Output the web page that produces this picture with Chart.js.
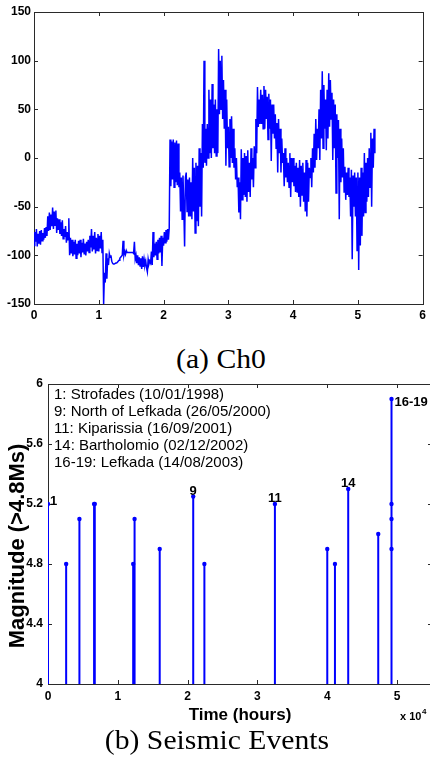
<!DOCTYPE html>
<html>
<head>
<meta charset="utf-8">
<script src="https://cdn.jsdelivr.net/npm/chart.js@4.4.1/dist/chart.umd.min.js"></script>
<style>
  html, body { margin: 0; padding: 0; overflow: hidden; background: #fff; }
  body { width: 430px; height: 758px; position: relative; }
  .box { position: absolute; left: 0; }
  .cap {
    position: absolute; left: 0; width: 430px; text-align: center;
    font: 27px/27px "Liberation Serif", "Times New Roman", serif; color: #000;
    transform: scaleX(1.1);
  }
</style>
</head>
<body>
<div class="box" style="top:0; width:430px; height:322px"><canvas id="ch0Chart"></canvas></div>
<div class="cap" style="top:346px; left:6px">(a) Ch0</div>
<div class="box" style="top:370px; width:434px; height:360px"><canvas id="eventChart"></canvas></div>
<div class="cap" style="top:727px; left:2px">(b) Seismic Events</div>

<script>
// Ch0 signal, one value every 0.0125 (x 10^4), rows of 0.2
const ch0Step = 0.0125;
const ch0Values = [
  -90, -76, -86, -73, -91, -78, -88, -75, -89, -74, -85, -77, -84, -72, -82, -71,           // 0.0
  -80, -60, -75, -56, -74, -58, -70, -51, -73, -55, -69, -54, -77, -62, -74, -63,           // 0.2
  -78, -66, -80, -64, -83, -73, -81, -70, -87, -76, -84, -62, -100, -82, -98, -84,          // 0.4
  -101, -86, -99, -84, -103, -88, -100, -85, -98, -84, -102, -87, -97, -83, -99, -88,       // 0.6
  -100, -86, -96, -84, -97, -80, -92, -73, -96, -80, -94, -76, -98, -82, -95, -78,          // 0.8
  -96, -80, -93, -76, -97, -84, -150, -118, -128, -98, -124, -103, -110, -98, -102, -100,   // 1.0
  -106, -108, -109, -109, -109, -108, -108, -107, -106, -105, -103, -102, -101, -100, -85, -100, // 1.2
  -96, -99, -95, -97, -97, -97, -97, -97, -97, -97, -97, -98, -86, -104, -100, -108,        // 1.4
  -100, -110, -102, -111, -103, -114, -101, -112, -104, -110, -106, -113, -117, -104, -109, -106, // 1.6
  -108, -96, -110, -76, -102, -88, -100, -86, -104, -84, -98, -82, -97, -80, -111, -82,     // 1.8
  -90, -76, -87, -74, -86, -73, -84, -72, 19, -29, 17, -22, 19, -30, 16, -25,               // 2.0
  18, -28, 15, -30, -15, -55, -20, -63, -18, -50, -91, -20, -15, -55, -22, -60,             // 2.2
  -20, -60, -25, -63, 0, -55, -10, -77, -5, -65, -8, -70, 10, -50, 5, -60,                  // 2.4
  35, -10, 100, -5, 30, -8, 35, 0, 70, 5, 60, 0, 76, 10, 55, 5,                             // 2.6
  60, 2, 50, 5, 112, 45, 100, 50, 105, 40, 80, 30, 70, -8, 60, 10,                          // 2.8
  32, -9, 40, 0, 43, -5, 30, -10, 10, -22, 0, -30, -20, -56, -25, -63,                      // 3.0
  9, -43, 0, -38, 5, -40, 2, -45, 8, -35, -5, -40, 10, -22, 0, -30,                         // 3.2
  12, -10, 40, 5, 73, 32, 60, 35, 70, 35, 65, 30, 74, 30, 70, 40,                           // 3.4
  63, 19, 66, 30, 60, -3, 55, 25, 55, 20, 45, 10, 36, -15, 40, 5,                           // 3.6
  30, -15, 20, -5, 5, -29, 10, -20, 0, -25, -5, -30, 5, -40, 0, -25,                        // 3.8
  0, -29, -8, -35, -5, -35, -10, -40, -2, -50, -8, -38, -5, -45, -15, -55,                  // 4.0
  -2, -60, -5, -45, -10, -20, 0, -30, 10, -15, 25, -10, 40, -2, 30, 10,                     // 4.2
  50, -2, 70, 20, 89, 10, 75, 30, 60, 8, 70, 20, 87, 32, 80, 40,                            // 4.4
  67, -2, 60, 10, 55, -36, 45, 0, 39, -63, 30, -25, 20, -20, 10, -35,                       // 4.6
  -9, -43, -15, -38, -10, -40, -20, -60, -12, -104, -18, -50, -15, -60, -20, -95,           // 4.8
  -15, -115, -20, -90, -10, -80, -15, -60, 5, -56, -5, -45, 0, -40, 10, -30,                // 5.0
  26, -50, 20, -10, 30, 5                                                                   // 5.2
];

// seismic events (time x 10^4 hours, magnitude)
const eventTimes = [0, 0.26, 0.45, 0.66, 0.67, 1.22, 1.24, 1.6, 2.08, 2.24, 3.25, 4.0, 4.11, 4.3, 4.73, 4.92, 4.92, 4.92, 4.92];
const eventMags  = [5.2, 4.8, 5.1, 5.2, 5.2, 4.8, 5.1, 4.9, 5.25, 4.8, 5.2, 4.9, 4.8, 5.3, 5.0, 5.9, 5.2, 5.1, 4.9];

const eventLabels = ['1', '9', '11', '14', '16-19'];
const labelTimes = [0, 2.08, 3.25, 4.3, 4.92];
const labelMags = [5.2, 5.25, 5.2, 5.3, 5.9];

const legendLines = [
  '1: Strofades (10/01/1998)',
  '9: North of Lefkada (26/05/2000)',
  '11: Kiparissia (16/09/2001)',
  '14: Bartholomio (02/12/2002)',
  '16-19: Lefkada (14/08/2003)'
];

const ch0XTicks = [0, 6];     // x range
const ch0YTicks = [-150, 150];
const evXTicks = [0, 5.5];
const evYTicks = [4, 6];

const blue = '#0000ff';
const tickFont = { family: '"Liberation Sans", Arial, sans-serif', size: 12, weight: 'bold' };

// box round the plot with ticks pointing inward, like matlab
const boxTicks = {
  id: 'boxTicks',
  beforeDatasetsDraw(chart) {
    const { ctx, chartArea: a, scales: { x, y } } = chart;
    ctx.save();
    ctx.strokeStyle = '#2a2a2a';
    ctx.lineWidth = 1;
    ctx.strokeRect(Math.round(a.left) + 0.5, Math.round(a.top) + 0.5,
      Math.round(a.right - a.left), Math.round(a.bottom - a.top));
    ctx.beginPath();
    x.ticks.forEach(t => {
      const px = Math.round(x.getPixelForValue(t.value)) + 0.5;
      ctx.moveTo(px, a.bottom); ctx.lineTo(px, a.bottom - 4);
      ctx.moveTo(px, a.top); ctx.lineTo(px, a.top + 4);
    });
    y.ticks.forEach(t => {
      const py = Math.round(y.getPixelForValue(t.value)) + 0.5;
      ctx.moveTo(a.left, py); ctx.lineTo(a.left + 4, py);
      ctx.moveTo(a.right, py); ctx.lineTo(a.right - 4, py);
    });
    ctx.stroke();
    ctx.restore();
  }
};

function drawExponent(ctx, x, y) {
  ctx.fillStyle = '#000';
  ctx.textAlign = 'left';
  ctx.textBaseline = 'alphabetic';
  ctx.font = 'bold 11px "Liberation Sans", Arial, sans-serif';
  ctx.fillText('x 10', x, y);
  ctx.font = 'bold 8px "Liberation Sans", Arial, sans-serif';
  ctx.fillText('4', x + 22, y - 6);
}

const ch0Extras = {
  id: 'ch0Extras',
  afterDraw(chart) {
    const ctx = chart.ctx;
    ctx.save();
    drawExponent(ctx, 398, 338);
    ctx.restore();
  }
};

const eventExtras = {
  id: 'eventExtras',
  afterDraw(chart) {
    const { ctx, scales: { x, y } } = chart;
    ctx.save();
    ctx.fillStyle = '#000';

    // legend text block
    ctx.font = '15px "Liberation Sans", Arial, sans-serif';
    ctx.textAlign = 'left';
    ctx.textBaseline = 'middle';
    legendLines.forEach((line, i) => ctx.fillText(line, 54, 25 + i * 16.9));

    // event numbers
    ctx.font = 'bold 13px "Liberation Sans", Arial, sans-serif';
    ctx.textBaseline = 'alphabetic';
    eventLabels.forEach((txt, i) => {
      const px = x.getPixelForValue(labelTimes[i]);
      const py = y.getPixelForValue(labelMags[i]);
      if (i === 0) {
        ctx.textAlign = 'left';
        ctx.fillText(txt, px + 2, py + 1);
      } else if (i === eventLabels.length - 1) {
        ctx.textAlign = 'left';
        ctx.fillText(txt, px + 3, py + 7);
      } else {
        ctx.textAlign = 'center';
        ctx.fillText(txt, px, py - 2);
      }
    });

    // y axis title
    ctx.font = 'bold 22px "Liberation Sans", Arial, sans-serif';
    ctx.textAlign = 'center';
    ctx.textBaseline = 'middle';
    ctx.translate(18, 176);
    ctx.rotate(-Math.PI / 2);
    ctx.fillText('Magnitude (>4.8Ms)', 0, 0);
    ctx.setTransform(1, 0, 0, 1, 0, 0);

    drawExponent(ctx, 400, 350);
    ctx.restore();
  }
};

function axis(range, step, size, horizontal, pad, fmt) {
  return {
    type: 'linear',
    min: range[0],
    max: range[1],
    grid: { display: false, drawTicks: false },
    border: { display: false },
    ticks: {
      stepSize: step, padding: pad, font: tickFont, color: '#000',
      includeBounds: false, autoSkip: false, maxRotation: 0,
      callback: fmt || (v => String(v))
    },
    afterFit: s => { if (horizontal) s.height = size; else s.width = size; }
  };
}

// top chart: Ch0
new Chart(document.getElementById('ch0Chart').getContext('2d'), {
  type: 'line',
  data: {
    datasets: [{
      data: ch0Values.map((v, i) => ({ x: i * ch0Step, y: v })),
      borderColor: blue,
      borderWidth: 1.5,
      pointRadius: 0,
      tension: 0
    }]
  },
  options: {
    responsive: true,
    maintainAspectRatio: false,
    animation: false,
    layout: { padding: { top: 12, right: 4, left: 0, bottom: 0 } },
    plugins: { legend: { display: false }, tooltip: { enabled: false } },
    scales: {
      x: axis(ch0XTicks, 1, 18, true, 4),
      y: axis(ch0YTicks, 50, 34, false, 3)
    }
  },
  plugins: [boxTicks, ch0Extras]
});

// bottom chart: stems from magnitude 4 up to each event
const stemPoints = eventTimes.flatMap((t, i) => [
  { x: t, y: 4 }, { x: t, y: eventMags[i] }, { x: t, y: null }
]);

const xEv = axis(evXTicks, 1, 46, true, 5);
xEv.title = {
  display: true, text: 'Time (hours)', color: '#000',
  font: { family: '"Liberation Sans", Arial, sans-serif', size: 17, weight: 'bold' },
  padding: { top: 0, bottom: 4 }
};

new Chart(document.getElementById('eventChart').getContext('2d'), {
  type: 'scatter',
  data: {
    datasets: [{
      data: stemPoints,
      showLine: true,
      spanGaps: false,
      borderColor: blue,
      borderWidth: 2,
      backgroundColor: blue,
      pointBorderWidth: 0,
      pointRadius: ctx => (ctx.dataIndex % 3 === 1 ? 2.2 : 0)
    }]
  },
  options: {
    responsive: true,
    maintainAspectRatio: false,
    animation: false,
    layout: { padding: { top: 14, right: 2, left: 0, bottom: 0 } },
    plugins: { legend: { display: false }, tooltip: { enabled: false } },
    scales: {
      x: xEv,
      y: axis(evYTicks, 0.4, 48, false, 5, v => String(+v.toFixed(1)))
    }
  },
  plugins: [boxTicks, eventExtras]
});
</script>
</body>
</html>
